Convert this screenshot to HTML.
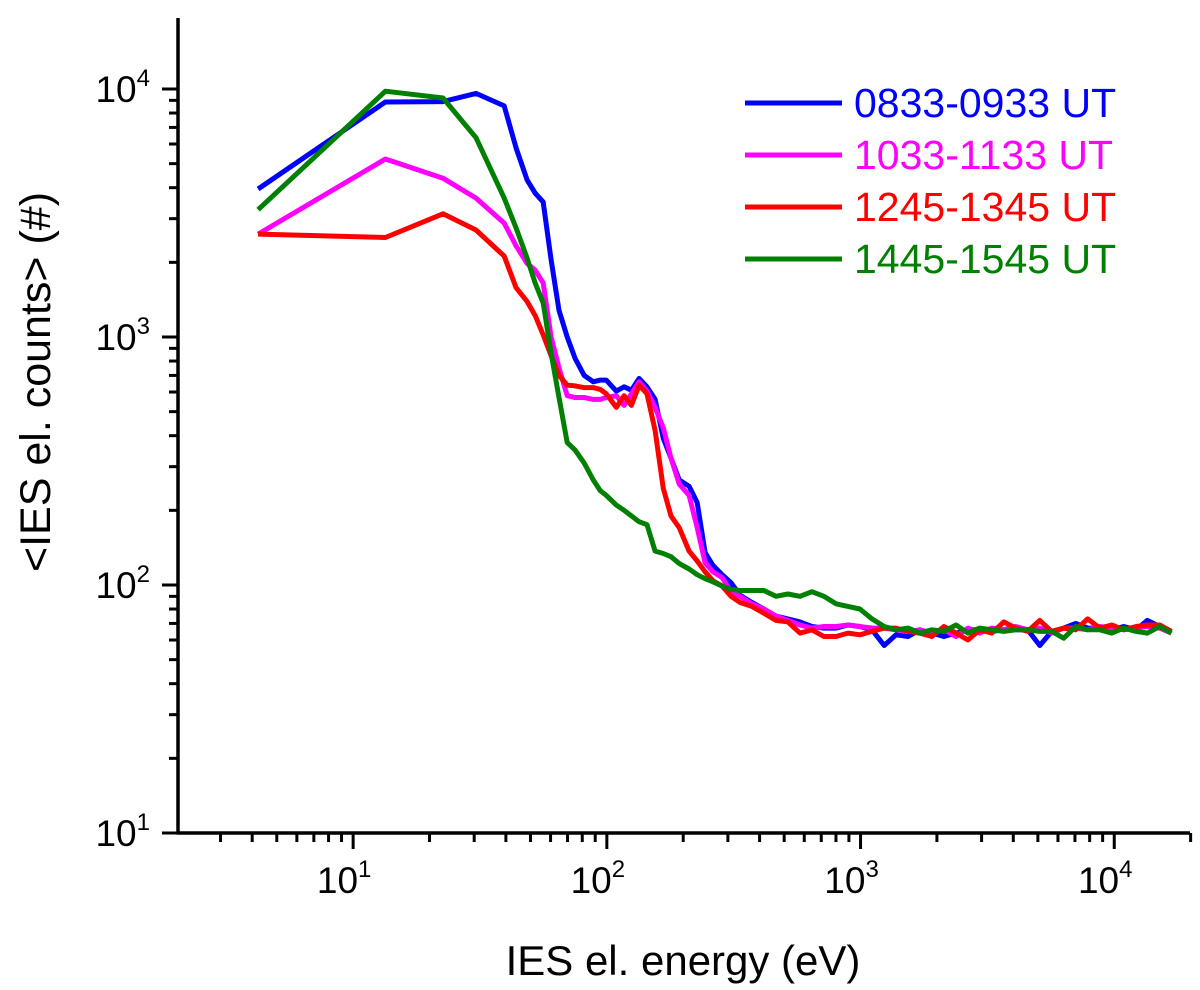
<!DOCTYPE html>
<html><head><meta charset="utf-8"><style>
html,body{margin:0;padding:0;background:#fff;}
svg{display:block;font-family:"Liberation Sans",Arial,sans-serif;}
</style></head><body>
<svg id="chart" width="1200" height="990" viewBox="0 0 1200 990">
<g id="plot"></g>
<g id="axes"></g>
<text x="683" y="975" font-size="42" text-anchor="middle">IES el. energy (eV)</text>
<text transform="translate(50,382) rotate(-90)" font-size="43" text-anchor="middle">&lt;IES el. counts&gt; (#)</text>
<g id="legend"></g>
</svg>
<script>
const energies = [4.22,13.4,22.6,30.5,39.4,43.9,48.5,52.2,56.1,60.3,64.8,69.8,75.0,81.4,88.4,94.2,99.4,109,117,125,134,144,155,167,179,193,211,227,244,262,285,309,335,
373,416,464,517,577,643,717,800,892,994,1110,1240,1380,1540,1710,1910,2130,2380,2650,2950,3290,3670,4090,4560,5090,5670,6320,7050,7860,8770,9780,10900,12200,13500,15100,16800];
const blueCounts = [3950,8860,8900,9600,8550,5780,4300,3800,3500,2050,1280,1000,820,700,660,670,670,605,630,610,680,630,560,390,325,265,250,215,135,120,110,102,91,
85,80,75,73,71,68,67,67,69,68,66,57,63,62,66,64,62,64,66,66,65,66,66,66,57,65,67,70,67,67,66,68,66,72,68,64];
const magentaCounts = [2600,5220,4370,3630,2880,2330,1980,1860,1650,1000,750,580,570,570,560,560,570,580,530,590,660,605,520,430,325,255,230,170,123,113,107,94,90,
84,80,75,72,69,67,68,68,69,68,67,67,66,65,66,64,66,62,67,64,67,66,68,66,67,64,67,67,66,68,67,66,67,68,67,64];
const redCounts = [2600,2520,3140,2700,2120,1580,1390,1220,1020,840,700,640,635,625,625,615,590,520,580,530,640,590,420,245,190,170,137,125,113,104,99,90,85,
82,77,72,71,64,66,62,62,64,63,65,67,67,65,64,62,68,64,60,66,64,71,67,65,72,65,67,66,73,67,69,66,68,69,69,65];
const greenCounts = [3260,9800,9200,6360,3630,2750,2080,1650,1370,860,570,375,350,310,265,240,230,210,200,190,180,175,137,134,130,122,116,110,106,103,99,96,95,
95,95,90,92,90,94,90,84,82,80,73,68,66,67,64,66,65,69,64,67,66,65,66,66,65,65,61,68,66,66,64,67,65,64,68,64];
const seriesNames = ["0833-0933 UT","1033-1133 UT","1245-1345 UT","1445-1545 UT"];
const seriesColors = ["#0000ff","#ff00ff","#ff0000","#008000"];
const seriesData = [blueCounts, magentaCounts, redCounts, greenCounts];
const xTickExps = [1,2,3,4];
const yTickExps = [1,2,3,4];

const NS="http://www.w3.org/2000/svg";
const X0=178,X1=1190,Y0=833,Y1=18;
const xMinLog=Math.log10(2.04), decX=253.7;
const yMinLog=1, decY=248;
function xs(e){return X0+(Math.log10(e)-xMinLog)*decX;}
function ys(v){return Y0-(Math.log10(v)-yMinLog)*decY;}
function mk(tag,attrs,parent){const el=document.createElementNS(NS,tag);for(const k in attrs)el.setAttribute(k,attrs[k]);parent.appendChild(el);return el;}

const plot=document.getElementById('plot');
seriesData.forEach((arr,i)=>{
  const d=arr.map((v,j)=>(j?'L':'M')+xs(energies[j]).toFixed(1)+','+ys(v).toFixed(1)).join('');
  const p=mk('path',{d:d,fill:'none',stroke:seriesColors[i],'stroke-width':5,'stroke-linejoin':'round'},plot);
  
  
});

const axes=document.getElementById('axes');
const xa=mk('line',{x1:X0-1.5,y1:Y0,x2:X1,y2:Y0,stroke:'#000','stroke-width':3.5},axes);


const ya=mk('line',{x1:X0,y1:Y0+1.5,x2:X0,y2:Y1,stroke:'#000','stroke-width':3.5},axes);



for(let e=0;e<=4;e++){for(let m=1;m<10;m++){
  const v=m*Math.pow(10,e);const x=xs(v);if(x<X0+2||x>X1+2)continue;
  const t=mk('line',{x1:x,y1:Y0,x2:x,y2:Y0+(m===1?16:9),stroke:'#000','stroke-width':3},axes);
  
  
}}
xTickExps.forEach(e=>{
  const x=xs(Math.pow(10,e));
  const t=mk('text',{x:x-9,y:Y0+60,'font-size':37,'text-anchor':'middle'},axes);
  t.textContent='10';
  const s=mk('tspan',{dy:-16,'font-size':24},t);s.textContent=e;
  
  
});
for(let e=1;e<=4;e++){for(let m=1;m<10;m++){
  const v=m*Math.pow(10,e);const y=ys(v);if(y<Y1)continue;
  const t=mk('line',{x1:X0,y1:y,x2:X0-(m===1?16:9),y2:y,stroke:'#000','stroke-width':3},axes);
  
  
}}
yTickExps.forEach(e=>{
  const y=ys(Math.pow(10,e));
  const t=mk('text',{x:150,y:y+13,'font-size':37,'text-anchor':'end'},axes);
  t.textContent='10';
  const s=mk('tspan',{dy:-16,'font-size':24},t);s.textContent=e;
  
  
});

const lg=document.getElementById('legend');
seriesNames.forEach((n,i)=>{
  const y=103+i*52;
  const l=mk('line',{x1:745,y1:y,x2:842,y2:y,stroke:seriesColors[i],'stroke-width':5},lg);
  
  
  const t=mk('text',{x:854,y:y+14,'font-size':41,fill:seriesColors[i]},lg);
  t.textContent=n;
  
  
});
</script>
</body></html>
